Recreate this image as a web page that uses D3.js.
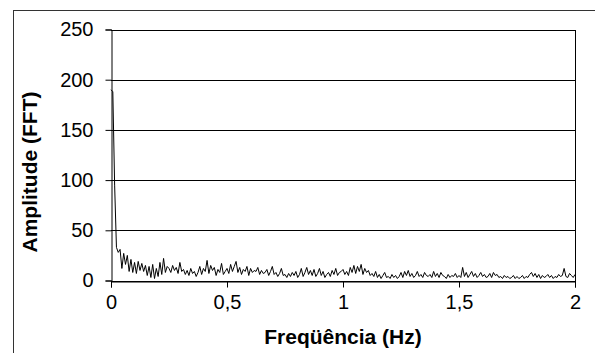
<!DOCTYPE html>
<html>
<head>
<meta charset="utf-8">
<script src="https://cdn.jsdelivr.net/npm/d3@7"></script>
<style>
  body { margin: 0; background: #fff; }
  svg { display: block; font-family: "Liberation Sans", Arial, sans-serif; }
</style>
</head>
<body>
<svg id="chart" width="595" height="353"></svg>
<script>
// FFT amplitude, one value per frequency bin (df = 2/256 Hz)
var df = 2 / 256;
var amplitude = [
  190, 188, 95, 33, 28, 31, 12, 27, 16, 25, 9, 21, 8, 18, 7, 19,
  10, 17, 9, 15, 5, 14, 3, 16, 2, 12, 4, 18, 6, 22, 8, 14,
  12, 8, 15, 10, 13, 7, 18, 9, 11, 6, 10, 5, 12, 7, 9, 4,
  8, 14, 6, 12, 9, 20, 7, 15, 10, 13, 5, 11, 8, 17, 6, 9,
  12, 7, 16, 9, 14, 19, 8, 13, 6, 11, 9, 14, 5, 12, 8, 10,
  9, 13, 6, 10, 7, 8, 11, 5, 9, 14, 6, 8, 4, 7, 12, 5,
  6, 3, 7, 4, 8, 5, 9, 3, 6, 12, 4, 8, 13, 6, 10, 5,
  11, 4, 7, 12, 5, 9, 3, 6, 8, 4, 10, 6, 12, 5, 8, 9,
  11, 6, 9, 5, 13, 8, 15, 7, 14, 9, 16, 6, 12, 8, 10, 5,
  7, 4, 9, 3, 6, 2, 5, 8, 3, 4, 2, 6, 3, 5, 2, 4,
  8, 3, 9, 5, 10, 4, 7, 3, 5, 9, 4, 6, 3, 8, 5, 4,
  6, 3, 9, 4, 7, 3, 8, 5, 4, 2, 6, 3, 5, 4, 7, 3,
  5, 3, 13, 4, 8, 3, 6, 9, 4, 7, 3, 5, 8, 4, 6, 3,
  4, 7, 3, 8, 5, 6, 3, 4, 2, 5, 3, 4, 2, 3, 5, 2,
  4, 2, 3, 5, 2, 4, 3, 6, 8, 4, 7, 3, 6, 2, 5, 3,
  4, 6, 3, 5, 2, 4, 3, 6, 4, 5, 12, 4, 3, 7, 5, 3, 6
];
var xTicks = [0, 0.5, 1, 1.5, 2];
var xTickLabels = ["0", "0,5", "1", "1,5", "2"];
var yTicks = [0, 50, 100, 150, 200, 250];
var xTitle = "Freqüência (Hz)";
var yTitle = "Amplitude (FFT)";

var svg = d3.select("#chart");

var plotLeft = 111, plotRight = 575, plotTop = 29.5, plotBottom = 280.5;

var x = d3.scaleLinear().domain([0, 2]).range([plotLeft, plotRight]);
var y = d3.scaleLinear().domain([0, 250]).range([plotBottom, plotTop]);

// chart area border
svg.append("rect")
  .attr("x", 13.5).attr("y", 10.5)
  .attr("width", 620).attr("height", 380)
  .attr("fill", "none")
  .attr("stroke", "#333")
  .attr("stroke-width", 1);

// gridlines
svg.append("g")
  .selectAll("line")
  .data(yTicks)
  .enter()
  .append("line")
  .attr("x1", plotLeft).attr("x2", plotRight + 0.5)
  .attr("y1", d => Math.round(y(d)) + 0.5)
  .attr("y2", d => Math.round(y(d)) + 0.5)
  .attr("stroke", "#000")
  .attr("shape-rendering", "crispEdges");

// plot area right edge
svg.append("line")
  .attr("x1", plotRight + 0.5).attr("x2", plotRight + 0.5)
  .attr("y1", plotTop).attr("y2", plotBottom)
  .attr("stroke", "#000")
  .attr("shape-rendering", "crispEdges");

// y axis
var yAxis = d3.axisLeft(y).tickValues(yTicks).tickSize(6).tickPadding(12);
var gy = svg.append("g")
  .attr("transform", "translate(" + (plotLeft + 0.5) + ",0)")
  .call(yAxis);
gy.select(".domain").attr("stroke", "#000");
gy.selectAll(".tick line").attr("stroke", "#000");
gy.selectAll(".tick text")
  .attr("font-size", "20px")
  .attr("font-family", "Liberation Sans, Arial, sans-serif")
  .attr("fill", "#000");

// x axis
var xAxis = d3.axisBottom(x)
  .tickValues(xTicks)
  .tickFormat((d, i) => xTickLabels[i])
  .tickSize(6).tickPadding(7);
var gx = svg.append("g")
  .attr("transform", "translate(0," + (Math.round(y(0)) + 0.5) + ")")
  .call(xAxis);
gx.select(".domain").attr("stroke", "#000");
gx.selectAll(".tick line").attr("stroke", "#000");
gx.selectAll(".tick text")
  .attr("font-size", "20px")
  .attr("font-family", "Liberation Sans, Arial, sans-serif")
  .attr("fill", "#000");

// spectrum line
var line = d3.line()
  .x((d, i) => x(i * df))
  .y(d => y(d));

svg.append("path")
  .datum(amplitude)
  .attr("d", line)
  .attr("fill", "none")
  .attr("stroke", "#000")
  .attr("stroke-width", 1)
  .attr("stroke-linejoin", "miter");

// axis titles
svg.append("text")
  .attr("x", x(1)).attr("y", 344)
  .attr("text-anchor", "middle")
  .attr("font-size", "21px")
  .attr("font-weight", "bold")
  .text(xTitle);

svg.append("text")
  .attr("transform", "translate(37,172) rotate(-90)")
  .attr("text-anchor", "middle")
  .attr("font-size", "21px")
  .attr("font-weight", "bold")
  .text(yTitle);
</script>
</body>
</html>
